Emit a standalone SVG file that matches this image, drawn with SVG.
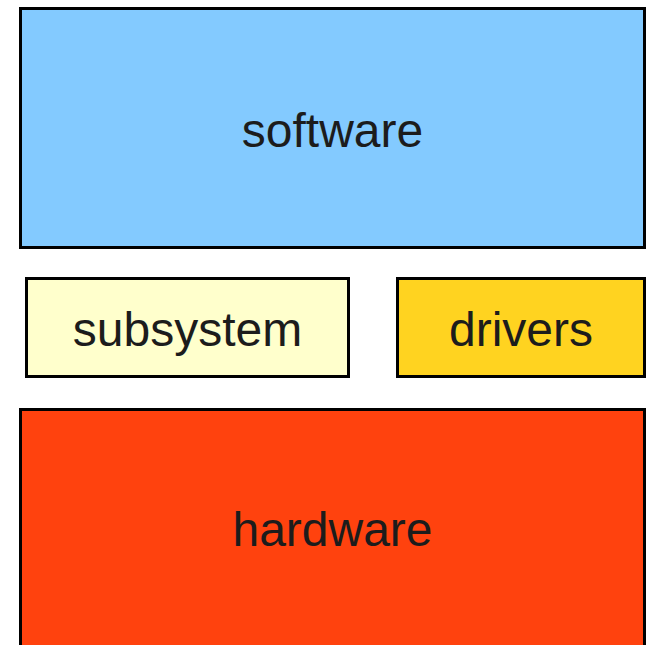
<svg xmlns="http://www.w3.org/2000/svg" width="652" height="645" viewBox="0 0 652 645">
  <style>
    .box { stroke: #000000; stroke-width: 3; }
    .label { font-family: "Liberation Sans", Arial, sans-serif; font-size: 48px; fill: #1c1c1c; text-anchor: middle; }
  </style>
  <rect x="0" y="0" width="652" height="645" fill="#ffffff"/>
  <g id="software">
    <rect class="box" x="20.5" y="8.5" width="624" height="239" fill="#83caff"/>
    <text class="label" x="332.5" y="147">software</text>
  </g>
  <g id="subsystem">
    <rect class="box" x="26.5" y="278.5" width="322" height="98" fill="#ffffcc"/>
    <text class="label" x="187.5" y="346">subsystem</text>
  </g>
  <g id="drivers">
    <rect class="box" x="397.5" y="278.5" width="247" height="98" fill="#ffd320"/>
    <text class="label" x="521" y="346">drivers</text>
  </g>
  <g id="hardware">
    <rect class="box" x="20.5" y="409.5" width="624" height="260" fill="#ff420e"/>
    <text class="label" x="332.5" y="546">hardware</text>
  </g>
  <g id="connectors"/>
</svg>
